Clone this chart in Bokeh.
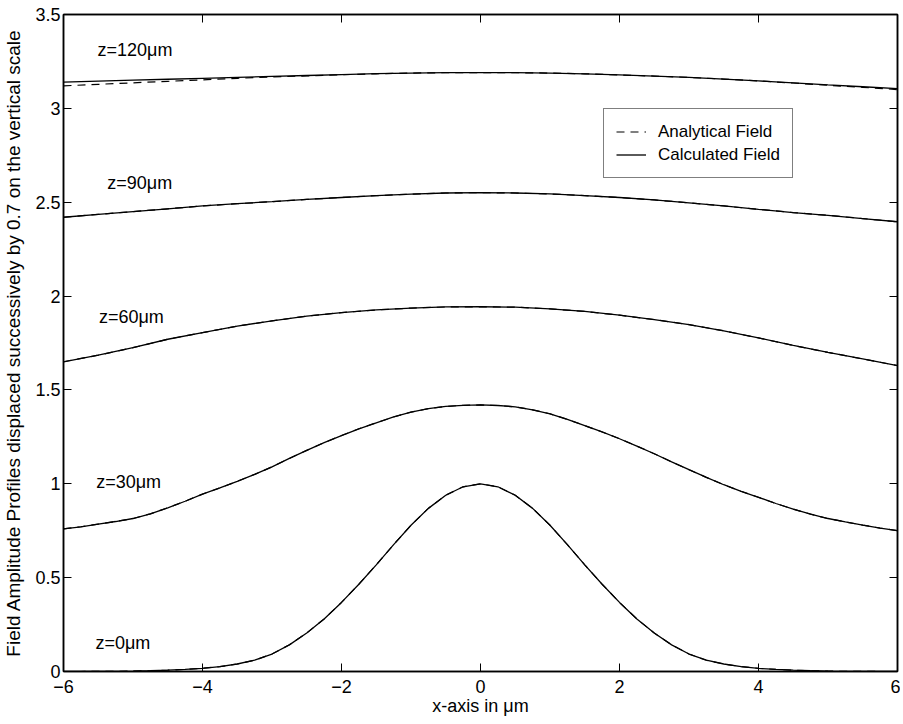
from bokeh.plotting import figure
from bokeh.models import FixedTicker, LinearAxis, Label, Legend, LegendItem, Range1d
from bokeh.embed import file_html
from bokeh.resources import INLINE

# ---- data ----
x_fine = [-6.0, -5.75, -5.5, -5.25, -5.0, -4.75, -4.5, -4.25, -4.0, -3.75, -3.5, -3.25,
          -3.0, -2.75, -2.5, -2.25, -2.0, -1.75, -1.5, -1.25, -1.0, -0.75, -0.5, -0.25,
          0.0, 0.25, 0.5, 0.75, 1.0, 1.25, 1.5, 1.75, 2.0, 2.25, 2.5, 2.75,
          3.0, 3.25, 3.5, 3.75, 4.0, 4.25, 4.5, 4.75, 5.0, 5.25, 5.5, 5.75, 6.0]
z0_profile = [0.000, 0.000, 0.001, 0.001, 0.002, 0.004, 0.007, 0.011, 0.017, 0.026, 0.040, 0.060,
              0.093, 0.142, 0.205, 0.280, 0.368, 0.465, 0.568, 0.676, 0.779, 0.869, 0.939, 0.984,
              1.000, 0.984, 0.939, 0.869, 0.779, 0.676, 0.568, 0.465, 0.368, 0.280, 0.205, 0.142,
              0.093, 0.060, 0.040, 0.026, 0.017, 0.011, 0.007, 0.004, 0.002, 0.001, 0.001, 0.000, 0.000]
z30_profile = [0.760, 0.771, 0.785, 0.799, 0.815, 0.840, 0.872, 0.907, 0.945, 0.978, 1.013, 1.050,
               1.090, 1.135, 1.178, 1.219, 1.257, 1.293, 1.325, 1.356, 1.382, 1.400, 1.412, 1.418,
               1.420, 1.417, 1.410, 1.394, 1.373, 1.343, 1.310, 1.276, 1.240, 1.201, 1.160, 1.117,
               1.075, 1.034, 0.995, 0.960, 0.928, 0.895, 0.865, 0.838, 0.815, 0.797, 0.780, 0.764, 0.750]

x_coarse = [-6.0, -5.5, -5.0, -4.5, -4.0, -3.5, -3.0, -2.5, -2.0, -1.5, -1.0, -0.5,
            0.0, 0.5, 1.0, 1.5, 2.0, 2.5, 3.0, 3.5, 4.0, 4.5, 5.0, 5.5, 6.0]
z60_profile = [1.650, 1.685, 1.725, 1.770, 1.805, 1.840, 1.868, 1.893, 1.912, 1.926, 1.936, 1.942,
               1.943, 1.941, 1.932, 1.918, 1.898, 1.875, 1.848, 1.815, 1.777, 1.737, 1.700, 1.665, 1.630]
z90_profile = [2.420, 2.435, 2.450, 2.465, 2.480, 2.492, 2.503, 2.515, 2.525, 2.535, 2.543, 2.549,
               2.551, 2.549, 2.544, 2.535, 2.525, 2.512, 2.497, 2.480, 2.462, 2.445, 2.430, 2.413, 2.396]
z120_calculated = [3.140, 3.145, 3.150, 3.155, 3.160, 3.165, 3.170, 3.175, 3.180, 3.185, 3.188, 3.190,
                   3.190, 3.190, 3.188, 3.184, 3.178, 3.172, 3.165, 3.156, 3.146, 3.136, 3.125, 3.115, 3.105]
z120_analytical = [3.120, 3.128, 3.136, 3.144, 3.152, 3.160, 3.167, 3.173, 3.179, 3.184, 3.188, 3.190,
                   3.190, 3.190, 3.188, 3.184, 3.178, 3.172, 3.165, 3.156, 3.146, 3.135, 3.123, 3.112, 3.100]

profile_labels = ["z=0\u03bcm", "z=30\u03bcm", "z=60\u03bcm", "z=90\u03bcm", "z=120\u03bcm"]

x_ticks = [-6, -4, -2, 0, 2, 4, 6]
y_ticks = [0, 0.5, 1, 1.5, 2, 2.5, 3, 3.5]
y_tick_labels = ["0", "0.5", "1", "1.5", "2", "2.5", "3", "3.5"]

# ---- figure ----
FONT = "Liberation Sans"
p = figure(width=900, height=718, output_backend="svg", toolbar_location=None,
           x_range=Range1d(-6, 6), y_range=Range1d(0, 3.5),
           min_border_left=62, min_border_right=3, min_border_top=14, min_border_bottom=45)
p.grid.visible = False
p.outline_line_color = "black"
p.outline_line_width = 1.5
p.background_fill_color = "white"
p.border_fill_color = "white"

# analytical (dashed) and calculated (solid) profiles
curves = [(x_fine, z0_profile, z0_profile),
          (x_fine, z30_profile, z30_profile),
          (x_coarse, z60_profile, z60_profile),
          (x_coarse, z90_profile, z90_profile),
          (x_coarse, z120_calculated, z120_analytical)]
dash_rs, solid_rs = [], []
for xs, calc, anal in curves:
    dash_rs.append(p.line(xs, anal, line_color="black", line_width=1.2, line_dash="8 6"))
for xs, calc, anal in curves:
    solid_rs.append(p.line(xs, calc, line_color="black", line_width=1.3))

# profile labels
label_pos = [(-5.54, 0.154), (-5.53, 1.012), (-5.49, 1.887), (-5.37, 2.60), (-5.51, 3.31)]
for txt, (lx, ly) in zip(profile_labels, label_pos):
    p.add_layout(Label(x=lx, y=ly, text=txt, text_font=FONT, text_font_size="18px",
                       text_baseline="middle", text_align="left", text_color="black"))

# axes
def style_axis(ax, labels=True):
    ax.axis_line_color = "black"
    ax.axis_line_width = 1.5
    ax.major_tick_in = 8
    ax.major_tick_out = 0
    ax.major_tick_line_color = "black"
    ax.major_tick_line_width = 1
    ax.minor_tick_line_color = None
    ax.major_label_text_font = FONT
    if labels:
        ax.major_label_text_font_size = "18px"
        ax.major_label_text_color = "black"
    else:
        ax.major_label_text_font_size = "1px"
        ax.major_label_text_color = None
    ax.axis_label_text_font = FONT
    ax.axis_label_text_font_style = "normal"
    ax.axis_label_text_color = "black"

xa = p.xaxis[0]
xa.ticker = FixedTicker(ticks=x_ticks)
style_axis(xa)
xa.major_label_standoff = 8
xa.axis_label = "x-axis in \u03bcm"
xa.axis_label_text_font_size = "18px"
xa.axis_label_standoff = 0

ya = p.yaxis[0]
ya.ticker = FixedTicker(ticks=y_ticks)
ya.major_label_overrides = {t: s for t, s in zip(y_ticks, y_tick_labels)}
style_axis(ya)
ya.major_label_standoff = 3
ya.axis_label = "Field Amplitude Profiles displaced successively by 0.7 on the vertical scale"
ya.axis_label_text_font_size = "19px"
ya.axis_label_standoff = 8

ra = LinearAxis(ticker=FixedTicker(ticks=y_ticks))
style_axis(ra, labels=False)
ra.major_label_standoff = 0
p.add_layout(ra, "right")
ta = LinearAxis(ticker=FixedTicker(ticks=x_ticks))
style_axis(ta, labels=False)
ta.major_label_standoff = 0
p.add_layout(ta, "above")

# legend
legend = Legend(items=[LegendItem(label="Analytical Field", renderers=[dash_rs[-1]]),
                       LegendItem(label="Calculated Field", renderers=[solid_rs[-1]])],
                location=(540, 493))
legend.label_text_font = FONT
legend.label_text_font_size = "17px"
legend.label_text_color = "black"
legend.border_line_color = "black"
legend.border_line_width = 1
legend.background_fill_color = "white"
legend.background_fill_alpha = 1
legend.padding = 12
legend.spacing = 2
legend.glyph_width = 30
legend.glyph_height = 21
legend.label_height = 21
legend.label_standoff = 12
legend.margin = 0
p.add_layout(legend, "center")

open("out.html", "w").write(file_html(p, INLINE))
